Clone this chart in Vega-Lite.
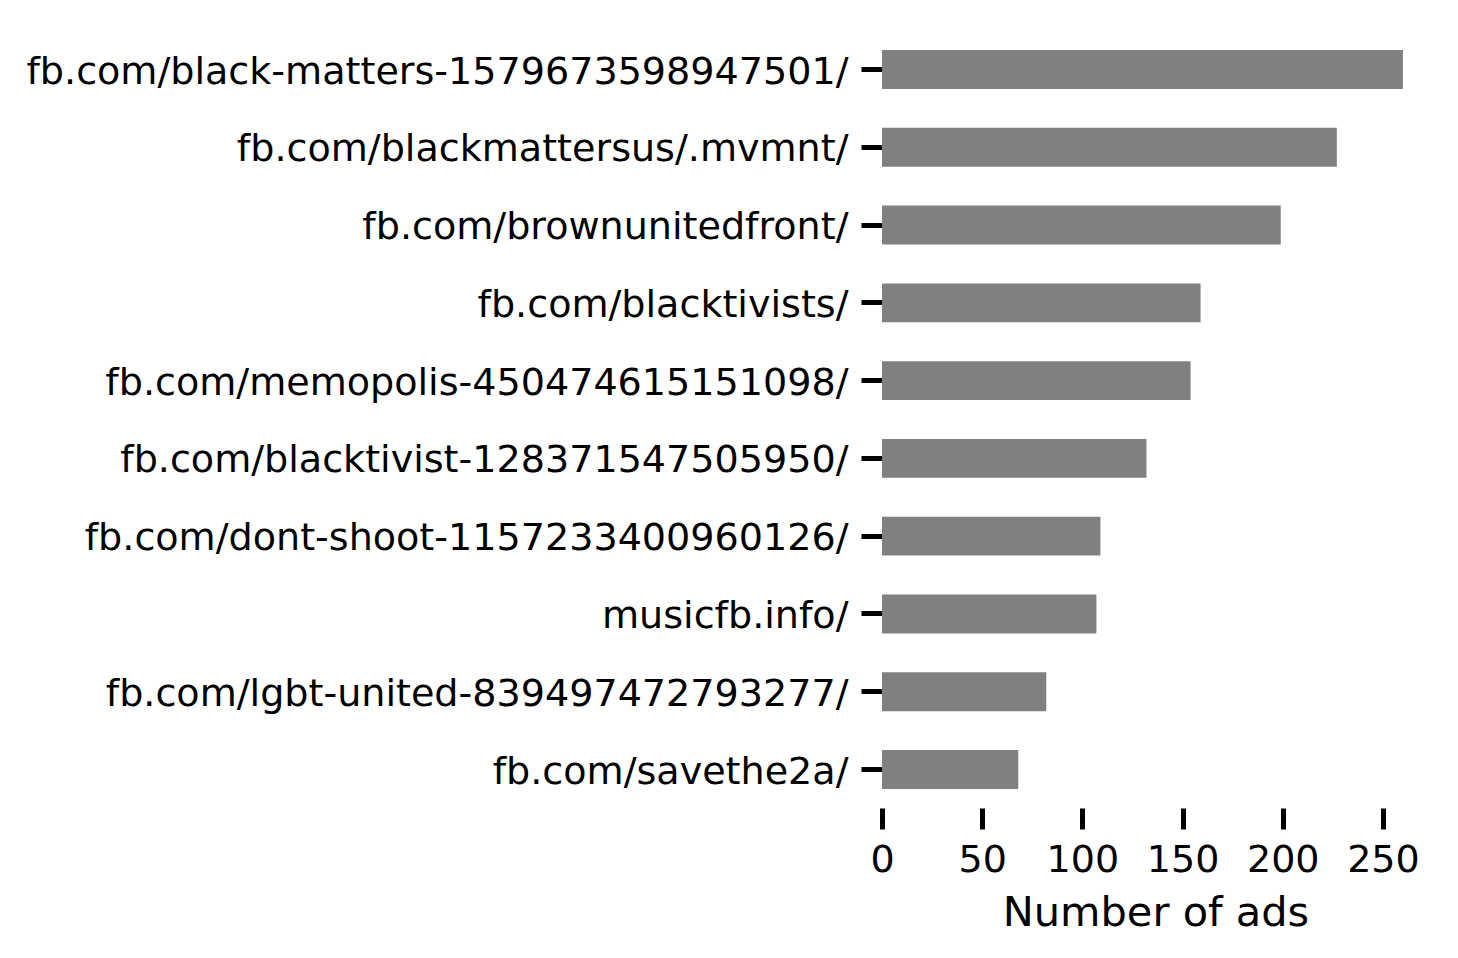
{
  "$schema": "https://vega.github.io/schema/vega-lite/v6.json",
  "width": 547,
  "height": 777,
  "autosize": {"type": "none"},
  "padding": {"left": 882, "top": 31, "right": 29, "bottom": 150},
  "background": "white",
  "config": {"view": {"stroke": null}, "font": "DejaVu Sans"},
  "data": {
    "values": [
      {"page": "fb.com/black-matters-1579673598947501/", "ads": 260},
      {"page": "fb.com/blackmattersus/.mvmnt/", "ads": 227},
      {"page": "fb.com/brownunitedfront/", "ads": 199},
      {"page": "fb.com/blacktivists/", "ads": 159},
      {"page": "fb.com/memopolis-450474615151098/", "ads": 154},
      {"page": "fb.com/blacktivist-128371547505950/", "ads": 132},
      {"page": "fb.com/dont-shoot-1157233400960126/", "ads": 109},
      {"page": "musicfb.info/", "ads": 107},
      {"page": "fb.com/lgbt-united-839497472793277/", "ads": 82},
      {"page": "fb.com/savethe2a/", "ads": 68}
    ]
  },
  "mark": {"type": "bar", "color": "#808080"},
  "encoding": {
    "y": {
      "field": "page",
      "type": "nominal",
      "sort": null,
      "scale": {"paddingInner": 0.5, "paddingOuter": 0.245},
      "axis": {
        "title": null,
        "domain": false,
        "ticks": true,
        "tickSize": 21,
        "tickWidth": 5,
        "tickColor": "black",
        "labelFontSize": 38.1,
        "labelColor": "black",
        "labelPadding": 13,
        "labelOffset": 3,
        "labelFont": "DejaVu Sans",
        "labelLimit": 2000
      }
    },
    "x": {
      "field": "ads",
      "type": "quantitative",
      "scale": {"domain": [0, 273], "nice": false, "zero": true},
      "axis": {
        "values": [0, 50, 100, 150, 200, 250],
        "domain": false,
        "grid": false,
        "tickSize": 21,
        "tickWidth": 5,
        "tickColor": "black",
        "labelFontSize": 38,
        "labelColor": "black",
        "labelPadding": 12,
        "labelFont": "DejaVu Sans",
        "labelFlush": false,
        "title": "Number of ads",
        "titleFont": "DejaVu Sans",
        "titleFontSize": 41.5,
        "titleFontWeight": "normal",
        "titleColor": "black",
        "titlePadding": 13
      }
    }
  }
}
